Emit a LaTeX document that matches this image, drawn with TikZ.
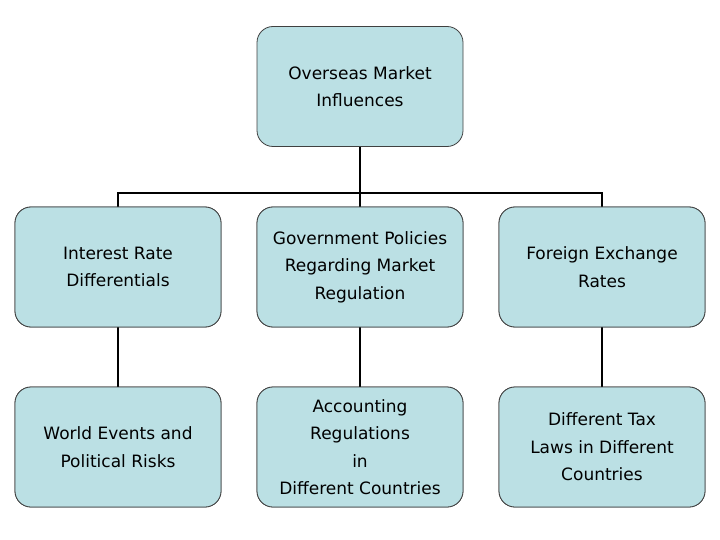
\documentclass[tikz,border=0pt]{standalone}
\usepackage{fontspec}
\setmainfont{DejaVu Sans}
\begin{document}
\begin{tikzpicture}[x=1pt,y=-1pt,
  bx/.style={draw=black!75,line width=0.8pt,fill={rgb,255:red,187;green,224;blue,228},rounded corners=16pt,minimum width=206pt,minimum height=120pt,align=center,font=\fontsize{17}{27.5}\selectfont,inner sep=0pt},
  ln/.style={line width=2pt,black}]
\useasboundingbox (0,0) rectangle (720,540);
\node[bx] (top) at (360,86.5) {Overseas Market\\ Influences};
\node[bx] (a) at (118,267) {Interest Rate\\ Differentials};
\node[bx] (b) at (360,267) {Government Policies\\Regarding Market\\ Regulation};
\node[bx] (c) at (602,267) {Foreign Exchange\\Rates};
\node[bx] (d) at (118,447) {World Events and\\ Political Risks};
\node[bx] (e) at (360,447) {Accounting\\Regulations\\in\\Different Countries};
\node[bx] (f) at (602,447) {Different Tax\\Laws in Different\\Countries};
\coordinate (j) at (360,193);
\draw[ln] (top.south) -- (j);
\draw[ln] (a.north) -- (118,193) -- (602,193) -- (c.north);
\draw[ln] (j) -- (b.north);
\draw[ln] (a) -- (d); \draw[ln] (b) -- (e); \draw[ln] (c) -- (f);
\node[bx] at (118,267) {Interest Rate\\ Differentials};
\node[bx] at (360,267) {Government Policies\\Regarding Market\\ Regulation};
\node[bx] at (602,267) {Foreign Exchange\\Rates};
\node[bx] at (118,447) {World Events and\\ Political Risks};
\node[bx] at (360,447) {Accounting\\Regulations\\in\\Different Countries};
\node[bx] at (602,447) {Different Tax\\Laws in Different\\Countries};
\end{tikzpicture}
\end{document}
